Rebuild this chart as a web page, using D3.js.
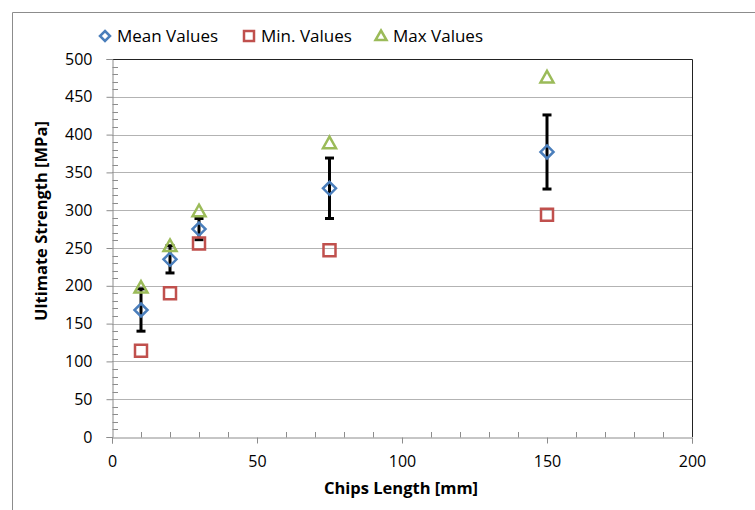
<!DOCTYPE html>
<html>
<head>
<meta charset="utf-8">
<script src="https://cdn.jsdelivr.net/npm/d3@7"></script>
<style>
  body { margin: 0; background: #fff; }
  svg { display: block; font-family: "Open Sans", "DejaVu Sans", sans-serif; }
</style>
</head>
<body>
<div id="chart"></div>
<script>
// data
const chipsLength = [10, 20, 30, 75, 150];
const meanValues = [168, 235, 275, 329, 377];
const errorValues = [28, 18, 14, 40, 49];
const minValues = [114, 190, 256, 247, 294];
const maxValues = [199, 254, 300, 390, 477];
const xTicks = [0, 50, 100, 150, 200];
const yTicks = [0, 50, 100, 150, 200, 250, 300, 350, 400, 450, 500];

const width = 755;
const height = 510;
const margin = { top: 59, right: 63, bottom: 73, left: 112 };

const svg = d3.select("#chart")
  .append("svg")
  .attr("width", width)
  .attr("height", height);

// outer frame
svg.append("path")
  .attr("d", `M12.5,${height} V12.5 H${width}`)
  .attr("fill", "none")
  .attr("stroke", "#8c8c8c")
  .attr("stroke-width", 1);

const x = d3.scaleLinear().domain([0, 200]).range([margin.left, width - margin.right]);
const y = d3.scaleLinear().domain([0, 500]).range([height - margin.bottom, margin.top]);

// ---------------------------
// Grid
// ---------------------------
svg.append("g")
  .selectAll("line")
  .data(yTicks.filter(d => d > 0 && d < 500))
  .join("line")
  .attr("x1", x(0))
  .attr("x2", x(200))
  .attr("y1", d => Math.round(y(d)) + 0.5)
  .attr("y2", d => Math.round(y(d)) + 0.5)
  .attr("stroke", "#b3b3b3")
  .attr("stroke-width", 1);

// top and right border of the plot area
svg.append("path")
  .attr("d", `M${x(0)},${Math.round(y(500)) + 0.5} H${Math.round(x(200)) + 0.5} V${y(0)}`)
  .attr("fill", "none")
  .attr("stroke", "#222")
  .attr("stroke-width", 1);

// ---------------------------
// Axes
// ---------------------------
const axisColor = "#8c8c8c";

const yAxis = svg.append("g")
  .attr("transform", `translate(${Math.round(x(0)) + 0.5},0)`)
  .call(d3.axisLeft(y).tickValues(yTicks).tickSize(6).tickPadding(14));

const xAxis = svg.append("g")
  .attr("transform", `translate(0,${Math.round(y(0)) + 0.5})`)
  .call(d3.axisBottom(x).tickValues(xTicks).tickSize(6).tickPadding(12));

[yAxis, xAxis].forEach(a => {
  a.select(".domain").attr("stroke", axisColor);
  a.selectAll(".tick line").attr("stroke", axisColor);
  a.selectAll(".tick text")
    .attr("fill", "#000")
    .attr("font-size", 16)
    .attr("font-family", "'Open Sans', sans-serif");
});

// minor ticks inside the plot
const minorY = d3.range(0, 501, 10).filter(d => d % 50 !== 0);
svg.append("g")
  .selectAll("line")
  .data(minorY)
  .join("line")
  .attr("x1", Math.round(x(0)) + 0.5)
  .attr("x2", Math.round(x(0)) + 6)
  .attr("y1", d => Math.round(y(d)) + 0.5)
  .attr("y2", d => Math.round(y(d)) + 0.5)
  .attr("stroke", axisColor);

const minorX = d3.range(0, 201, 10).filter(d => d % 50 !== 0);
svg.append("g")
  .selectAll("line")
  .data(minorX)
  .join("line")
  .attr("x1", d => Math.round(x(d)) + 0.5)
  .attr("x2", d => Math.round(x(d)) + 0.5)
  .attr("y1", Math.round(y(0)) + 0.5)
  .attr("y2", Math.round(y(0)) - 5)
  .attr("stroke", axisColor);

// axis titles
svg.append("text")
  .attr("x", 401)
  .attr("y", 494)
  .attr("text-anchor", "middle")
  .attr("font-size", 16.5)
  .attr("font-weight", "bold")
  .text("Chips Length [mm]");

svg.append("text")
  .attr("transform", `translate(47,221) rotate(-90)`)
  .attr("text-anchor", "middle")
  .attr("font-size", 16.5)
  .attr("font-weight", "bold")
  .text("Ultimate Strength [MPa]");

// ---------------------------
// Marks
// ---------------------------
const blue = "#4a7ebb";
const red = "#c0504d";
const green = "#9bbb59";

const points = chipsLength.map((c, i) => ({
  c, mean: meanValues[i], err: errorValues[i], min: minValues[i], max: maxValues[i]
}));

// error bars
const err = svg.append("g")
  .attr("stroke", "#000")
  .attr("stroke-width", 3);

err.selectAll("line.v")
  .data(points)
  .join("line")
  .attr("class", "v")
  .attr("x1", d => x(d.c))
  .attr("x2", d => x(d.c))
  .attr("y1", d => y(d.mean + d.err))
  .attr("y2", d => y(d.mean - d.err));

err.selectAll("line.top")
  .data(points)
  .join("line")
  .attr("class", "top")
  .attr("x1", d => x(d.c) - 4.5)
  .attr("x2", d => x(d.c) + 4.5)
  .attr("y1", d => y(d.mean + d.err))
  .attr("y2", d => y(d.mean + d.err));

err.selectAll("line.bottom")
  .data(points)
  .join("line")
  .attr("class", "bottom")
  .attr("x1", d => x(d.c) - 4.5)
  .attr("x2", d => x(d.c) + 4.5)
  .attr("y1", d => y(d.mean - d.err))
  .attr("y2", d => y(d.mean - d.err));

const diamond = "M0,-6.5 L6.5,0 L0,6.5 L-6.5,0 Z";
const square = "M-6,-6 H6 V6 H-6 Z";
const triangle = "M0,-6.5 L6.5,5 L-6.5,5 Z";

svg.append("g")
  .selectAll("path")
  .data(points)
  .join("path")
  .attr("transform", d => `translate(${x(d.c)},${y(d.mean)})`)
  .attr("d", diamond)
  .attr("fill", "none")
  .attr("stroke", blue)
  .attr("stroke-width", 2.5);

svg.append("g")
  .selectAll("path")
  .data(points)
  .join("path")
  .attr("transform", d => `translate(${x(d.c)},${y(d.min)})`)
  .attr("d", square)
  .attr("fill", "none")
  .attr("stroke", red)
  .attr("stroke-width", 2.5);

svg.append("g")
  .selectAll("path")
  .data(points)
  .join("path")
  .attr("transform", d => `translate(${x(d.c)},${y(d.max) + 1})`)
  .attr("d", triangle)
  .attr("fill", "none")
  .attr("stroke", green)
  .attr("stroke-width", 2.5);

// ---------------------------
// Legend
// ---------------------------
const legendData = [
  { label: "Mean Values", color: blue, shape: "M0,-5 L5,0 L0,5 L-5,0 Z", x: 105 },
  { label: "Min. Values", color: red, shape: "M-5,-5 H5 V5 H-5 Z", x: 249 },
  { label: "Max Values", color: green, shape: "M0,-5.5 L5.5,4 L-5.5,4 Z", x: 381 }
];

const legendItem = svg.append("g")
  .selectAll("g")
  .data(legendData)
  .join("g")
  .attr("transform", d => `translate(${d.x},36)`);

legendItem.append("path")
  .attr("d", d => d.shape)
  .attr("fill", "none")
  .attr("stroke", d => d.color)
  .attr("stroke-width", 2.5);

legendItem.append("text")
  .attr("x", 12)
  .attr("y", 6)
  .attr("font-size", 17)
  .text(d => d.label);
</script>
</body>
</html>
